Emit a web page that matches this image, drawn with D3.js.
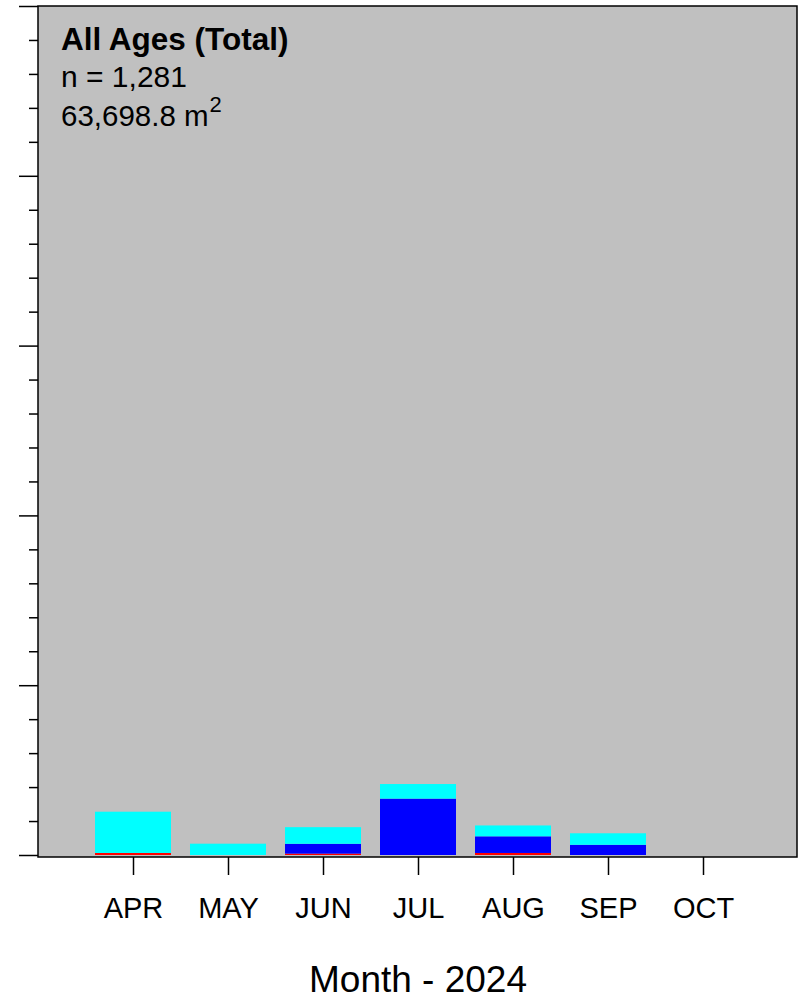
<!DOCTYPE html>
<html>
<head>
<meta charset="utf-8">
<script src="https://cdnjs.cloudflare.com/ajax/libs/d3/7.8.5/d3.min.js"></script>
<style>
  html, body { margin: 0; padding: 0; background: #fff; }
  svg { display: block; font-family: "Liberation Sans", Arial, sans-serif; }
</style>
</head>
<body>
<svg id="chart" width="802" height="1001"></svg>
<script>
// Monthly values, stacked bottom to top: red, blue, cyan
const months = ["APR", "MAY", "JUN", "JUL", "AUG", "SEP", "OCT"];
const redVals = [0.06, 0, 0.04, 0, 0.06, 0, 0];
const blueVals = [0, 0, 0.29, 1.66, 0.49, 0.30, 0];
const cyanVals = [1.215, 0.333, 0.49, 0.43, 0.32, 0.34, 0];
const seriesNames = ["red", "blue", "cyan"];
const seriesColors = ["#ff0000", "#0000ff", "#00ffff"];

const titleLines = ["All Ages (Total)", "n = 1,281"];
const areaLabel = "63,698.8 m";
const xTitle = "Month - 2024";
const yMax = 25;

const svg = d3.select("#chart");
const L = 38, R = 797, T = 6, B = 857, zeroY = 855;

const x = d3.scalePoint().domain(months).range([L, 798]).padding(1);
const barW = 76;
const y = d3.scaleLinear().domain([0, yMax]).range([zeroY, T]);

// panel background
svg.append("rect").attr("x", L).attr("y", T).attr("width", R - L).attr("height", B - T)
  .attr("fill", "#c0c0c0");

// stacked bars
const rows = months.map((m, i) => ({ month: m, red: redVals[i], blue: blueVals[i], cyan: cyanVals[i] }));
const stack = d3.stack().keys(seriesNames)(rows);
stack.forEach((layer, k) => {
  svg.append("g").selectAll("rect").data(layer).join("rect")
    .attr("x", d => x(d.data.month) - barW / 2)
    .attr("width", barW)
    .attr("y", d => y(d[1]))
    .attr("height", d => Math.max(0, y(d[0]) - y(d[1])))
    .attr("fill", seriesColors[k]);
});

// panel frame
svg.append("rect").attr("x", L).attr("y", T).attr("width", R - L).attr("height", B - T)
  .attr("fill", "none").attr("stroke", "#000").attr("stroke-width", 1.5);

// y axis: major and minor ticks, no labels
const yMinor = d3.axisLeft(y).tickValues(d3.range(0, yMax + 1, 1).filter(v => v % 5 !== 0))
  .tickSize(9).tickFormat("");
const yMajor = d3.axisLeft(y).tickValues(d3.range(0, yMax + 1, 5)).tickSize(19).tickFormat("");
[yMinor, yMajor].forEach(ax => {
  const g = svg.append("g").attr("transform", `translate(${L},0)`).call(ax);
  g.select(".domain").remove();
  g.selectAll(".tick line").attr("stroke", "#000").attr("stroke-width", 1.5);
});

// x axis
const gx = svg.append("g").attr("transform", `translate(0,${B})`)
  .call(d3.axisBottom(x).tickSize(18).tickPadding(22));
gx.select(".domain").remove();
gx.selectAll(".tick line").attr("stroke", "#000").attr("stroke-width", 1.5);
gx.selectAll(".tick text").attr("font-size", 29).attr("fill", "#000")
  .attr("font-family", "'Liberation Sans', Arial, sans-serif");

// axis title
svg.append("text").attr("x", x("JUL")).attr("y", 992).attr("text-anchor", "middle")
  .attr("font-size", 37).attr("fill", "#000").text(xTitle);

// annotation block
svg.append("text").attr("x", 61).attr("y", 50).attr("font-size", 31.5).attr("font-weight", "bold")
  .text(titleLines[0]);
svg.append("text").attr("x", 61).attr("y", 87).attr("font-size", 30).text(titleLines[1]);
const area = svg.append("text").attr("x", 61).attr("y", 126).attr("font-size", 29.5);
area.append("tspan").text(areaLabel);
area.append("tspan").attr("dx", 1).attr("dy", -14).attr("font-size", 22).text("2");
</script>
</body>
</html>
